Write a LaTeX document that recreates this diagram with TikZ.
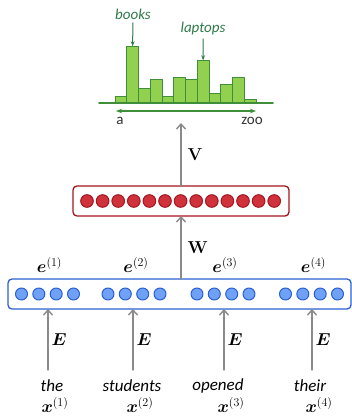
\documentclass[tikz,border=0pt]{standalone}
\usepackage{amsmath,bm}
\usepackage[no-math]{fontspec}
\setmainfont{Carlito}
\usepackage{xcolor}
\usetikzlibrary{arrows.meta,positioning,calc}
\definecolor{bargreen}{HTML}{92D050}
\definecolor{barline}{HTML}{3F8F3A}
\definecolor{labgreen}{HTML}{2F7A4A}
\definecolor{hidred}{HTML}{D0323C}
\definecolor{hidredline}{HTML}{A3151F}
\definecolor{embblue}{HTML}{6FA2F7}
\definecolor{embblueline}{HTML}{2A5FD2}
\definecolor{arrgray}{HTML}{8A8A8A}

\begin{document}
\begin{tikzpicture}[
			x=1pt,
			y=-1pt,
			line cap=round,
			line join=round,
			bar/.style={fill=bargreen,draw=barline,line width=1pt},
			redunit/.style={circle,fill=hidred,draw=hidredline,line width=1pt,minimum size=12.6pt,inner sep=0pt},
			blueunit/.style={circle,fill=embblue,draw=embblueline,line width=1pt,minimum size=12pt,inner sep=0pt},
			layer/.style={rounded corners=4pt,line width=1.3pt},
			flow/.style={draw=arrgray,line width=1.4pt,-{Straight Barb[length=5pt,width=9pt]}},
			word/.style={font=\fontsize{17}{20}\selectfont\itshape,inner sep=0pt},
			wlab/.style={font=\fontsize{17}{20}\selectfont,inner sep=0pt}
			]
			\useasboundingbox (0,0) rectangle (352,417);
			
			% Bar width and baseline of the histogram
			\def\bw{11.75}
			\def\by{103.3}
			
			%------------------------------
			% Output distribution
			%------------------------------
			\foreach \h [count=\k from 0] in {6.7,57,14.3,23.3,6.3,25.3,23.3,43,10,19,26,4}{
				\draw[bar] (115+\k*\bw,\by) rectangle ++(\bw,-\h);
			}
			\coordinate (top_books) at (115+1.5*\bw,\by-57);
			\coordinate (top_laptops) at (115+7.5*\bw,\by-43);
			\draw[barline,line width=1.6pt] (99,\by) -- (273,\by);
			\draw[barline,line width=1.2pt,{Stealth[length=6pt]}-{Stealth[length=6pt]}] (116,111) -- (256,111);
			\node[font=\fontsize{15}{17}\selectfont,text=black!80] (vocab_a) at (120,121) {a};
			\node[font=\fontsize{15}{17}\selectfont,text=black!80] (vocab_zoo) at (252,121) {zoo};
			
			\node[font=\fontsize{15}{17}\selectfont\itshape,text=labgreen] (name_books) at (133,14) {books};
			\draw[labgreen,line width=1pt,-{Stealth[length=5pt]}] (name_books) to (top_books);
			\node[font=\fontsize{15}{17}\selectfont\itshape,text=labgreen] (name_laptops) at (203,29) {laptops};
			\draw[labgreen,line width=1pt,-{Stealth[length=5pt]}] (name_laptops) to (top_laptops);
			\coordinate (dist) at (181,123);
			
			%------------------------------
			% Hidden layer
			%------------------------------
			\draw[layer,draw=hidredline] (73,186) rectangle (289,216);
			\coordinate (hid_top) at (181,186);
			\coordinate (hid_bot) at (181,216);
			\foreach \i in {0,...,12}{
				\node[redunit] (h\i) at (87+15.6*\i,201) {};
			}
			\draw[flow] (hid_top) -- (dist) node[wlab,midway,right=6pt] {$\mathbf{V}$};
			
			%------------------------------
			% Concatenated embeddings
			%------------------------------
			\draw[layer,draw=embblueline] (8,279) rectangle (351,309);
			\coordinate (emb_top) at (181,279);
			\draw[flow] (emb_top) -- (hid_bot) node[wlab,midway,right=6pt] {$\mathbf{W}$};
			
			\foreach \g/\n/\w/\c [count=\t] in {47.5/48/the/52, 134/133/students/132, 223/224/opened/218, 311.5/312/their/310}{
				\foreach \o [count=\u] in {-26,-8.7,8.7,26}{
					\node[blueunit] (e\t_\u) at (\g+\o,294) {};
				}
				\node[wlab] (elab\t) at (\g+2,265) {$\bm{e}^{(\t)}$};
				\node[word] (w\t) at (\c,386) {\w};
				\node[wlab] (x\t) at (\n+7,405) {$\bm{x}^{(\t)}$};
				\coordinate (in\t) at (\n,370);
				\coordinate (emb\t) at (\n,309);
				\draw[flow] (in\t) -- (emb\t) node[wlab,midway,right=3pt] {$\bm{E}$};
			}
		\end{tikzpicture}
\end{document}
